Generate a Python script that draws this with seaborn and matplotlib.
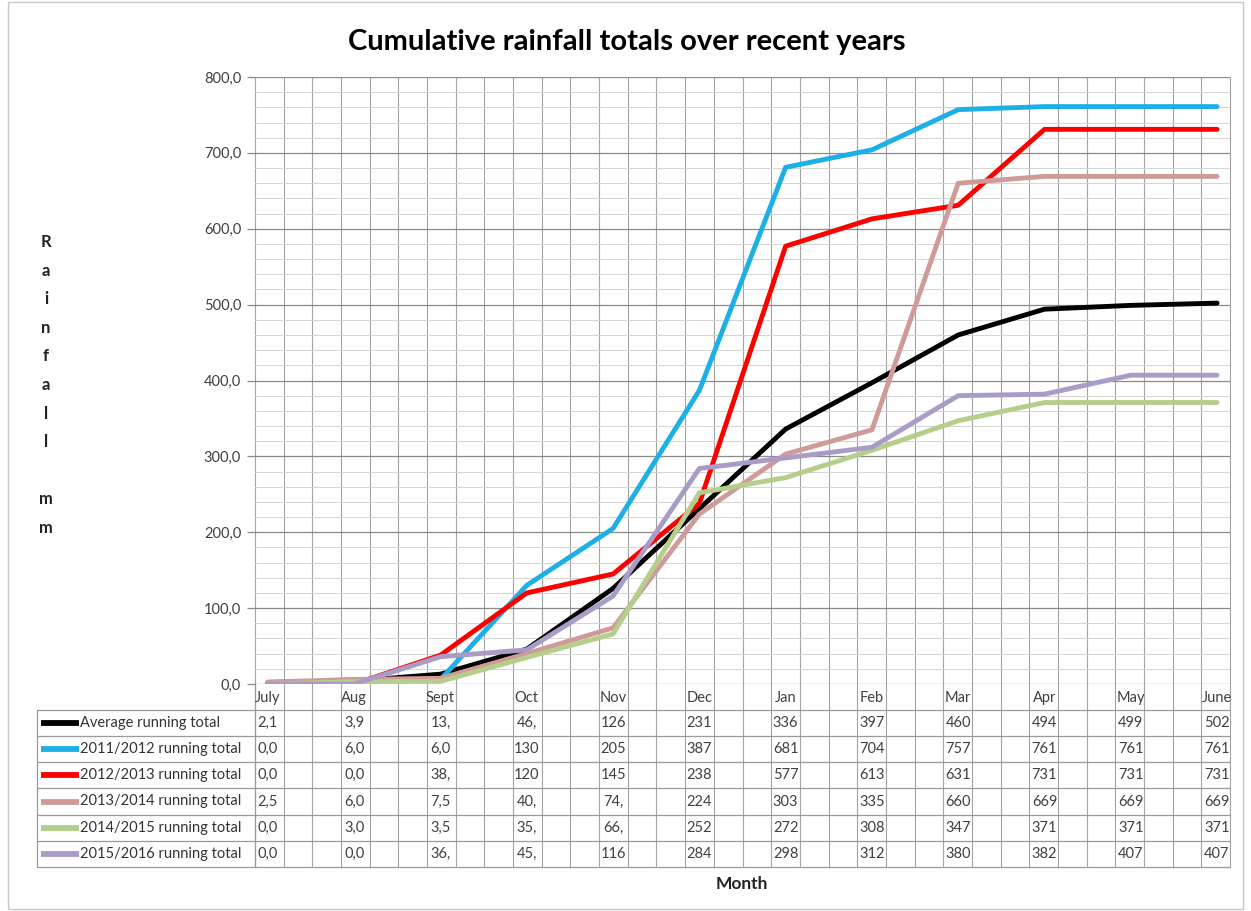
import matplotlib
matplotlib.use("Agg")
import matplotlib.pyplot as plt
import matplotlib.transforms as mtransforms
from matplotlib.lines import Line2D
from matplotlib.patches import Rectangle
import seaborn as sns
import pandas as pd
import numpy as np

# ---- data -------------------------------------------------------------
months = ["July", "Aug", "Sept", "Oct", "Nov", "Dec",
          "Jan", "Feb", "Mar", "Apr", "May", "June"]

series_names = ["Average running total",
                "2011/2012 running total",
                "2012/2013 running total",
                "2013/2014 running total",
                "2014/2015 running total",
                "2015/2016 running total"]

average   = [2.1, 3.9, 13.0, 46.0, 126, 231, 336, 397, 460, 494, 499, 502]
y2011_12  = [0.0, 6.0, 6.0, 130, 205, 387, 681, 704, 757, 761, 761, 761]
y2012_13  = [0.0, 0.0, 38.0, 120, 145, 238, 577, 613, 631, 731, 731, 731]
y2013_14  = [2.5, 6.0, 7.5, 40.0, 74.0, 224, 303, 335, 660, 669, 669, 669]
y2014_15  = [0.0, 3.0, 3.5, 35.0, 66.0, 252, 272, 308, 347, 371, 371, 371]
y2015_16  = [0.0, 0.0, 36.0, 45.0, 116, 284, 298, 312, 380, 382, 407, 407]

all_series = [average, y2011_12, y2012_13, y2013_14, y2014_15, y2015_16]
colors = ["#000000", "#1DB0E6", "#FF0000", "#CF9B99", "#B6CE8C", "#A99CC7"]

y_ticks = [0, 100, 200, 300, 400, 500, 600, 700, 800]

# ---- figure geometry (pixels) ------------------------------------------
W, H = 1251, 911
L, R, T, B = 255, 1230, 77, 684
TABLE_LEFT = 37
ROW_LINES = [710, 736, 762, 788, 815, 841, 867]


def fx(px):
    return px / W


def fy(py):
    return 1 - py / H


sns.set_theme(style="white")
plt.rcParams["font.family"] = ["Lato", "DejaVu Sans"]

fig = plt.figure(figsize=(W / 100, H / 100), dpi=100)
fig.patch.set_facecolor("white")
ax = fig.add_axes([fx(L), fy(B), fx(R) - fx(L), fy(T) - fy(B)])
ax.set_facecolor("none")

long_df = pd.DataFrame({
    "idx": np.tile(np.arange(len(months)), len(series_names)),
    "mm": np.concatenate([np.asarray(s, dtype=float) for s in all_series]),
    "series": np.repeat(series_names, len(months)),
})

sns.lineplot(data=long_df, x="idx", y="mm", hue="series",
             hue_order=series_names, palette=colors, linewidth=3.5,
             sort=False, legend=False, ax=ax, zorder=5)
for ln in ax.lines:
    ln.set_solid_capstyle("round")
    ln.set_solid_joinstyle("round")

ax.set_xlim(-0.15, 11.15)
ax.set_ylim(0, 800)
ax.set_xlabel("")
ax.set_ylabel("")
ax.set_xticks([])

# horizontal grid: major every 100, minor every 20
for v in np.arange(20, 800, 20):
    major = v % 100 == 0
    ax.axhline(v, color="#8a8a8a" if major else "#d4d4d4",
               lw=0.9 if major else 0.7, zorder=1)
ax.axhline(800, color="#8a8a8a", lw=0.9, zorder=1)
ax.axhline(0, color="#8a8a8a", lw=0.9, zorder=1)

ax.set_yticks(y_ticks)
ax.set_yticklabels([f"{v:.1f}".replace(".", ",") for v in y_ticks],
                   fontsize=10.5, color="#404040")
ax.tick_params(axis="y", length=6, width=0.9, color="#8a8a8a", pad=4,
               left=True)
for s in ax.spines.values():
    s.set_visible(False)

# vertical grid lines running through the plot and the data table
n_div = 34
for k in range(n_div + 1):
    px = L + k * (R - L) / n_div
    fig.add_artist(Line2D([fx(px), fx(px)], [fy(T), fy(ROW_LINES[-1])],
                          color="#a3a3a3", lw=0.8, zorder=-1))

# data table lines
for i, py in enumerate(ROW_LINES):
    fig.add_artist(Line2D([fx(TABLE_LEFT), fx(R)], [fy(py), fy(py)],
                          color="#9a9a9a", lw=0.9, zorder=-1))
fig.add_artist(Line2D([fx(TABLE_LEFT), fx(TABLE_LEFT)],
                      [fy(ROW_LINES[0]), fy(ROW_LINES[-1])],
                      color="#9a9a9a", lw=0.9, zorder=-1))
fig.add_artist(Line2D([fx(L), fx(L)], [fy(B), fy(ROW_LINES[-1])],
                      color="#9a9a9a", lw=0.9, zorder=-1))

trans = mtransforms.blended_transform_factory(ax.transData, fig.transFigure)

# month header row
for i, m in enumerate(months):
    ax.text(i, fy(698), m, transform=trans, ha="center", va="center",
            fontsize=10.5, color="#404040", clip_on=False)


def cell_text(v):
    # narrow table cells only show the first three characters
    return f"{v:.1f}".replace(".", ",")[:3]


for r, (name, vals, col) in enumerate(zip(series_names, all_series, colors)):
    yc = (ROW_LINES[r] + ROW_LINES[r + 1]) / 2
    fig.add_artist(Line2D([fx(41), fx(79)], [fy(yc), fy(yc)], color=col,
                          lw=4.2, solid_capstyle="butt"))
    fig.text(fx(80), fy(yc), name, ha="left", va="center",
             fontsize=10.5, color="#333333")
    for i, v in enumerate(vals):
        ax.text(i, fy(yc), cell_text(v), transform=trans, ha="center",
                va="center", fontsize=10.5, color="#404040", clip_on=False)

# titles and axis captions
fig.text(fx(627), fy(42), "Cumulative rainfall totals over recent years",
         ha="center", va="center", fontsize=21, fontweight="bold",
         color="#000000")
fig.text(fx(742), fy(884), "Month", ha="center", va="center",
         fontsize=12.5, fontweight="bold", color="#222222")
fig.text(fx(46), fy(385), "R\na\ni\nn\nf\na\nl\nl\n\nm\nm",
         ha="center", va="center", fontsize=12, fontweight="bold",
         color="#222222", linespacing=1.97)

# chart frame
fig.add_artist(Rectangle((fx(8), fy(909)), fx(1243) - fx(8), fy(2) - fy(909),
                         fill=False, edgecolor="#c8c8c8", lw=1.0))

fig.savefig("out.png", dpi=100, facecolor="white")
